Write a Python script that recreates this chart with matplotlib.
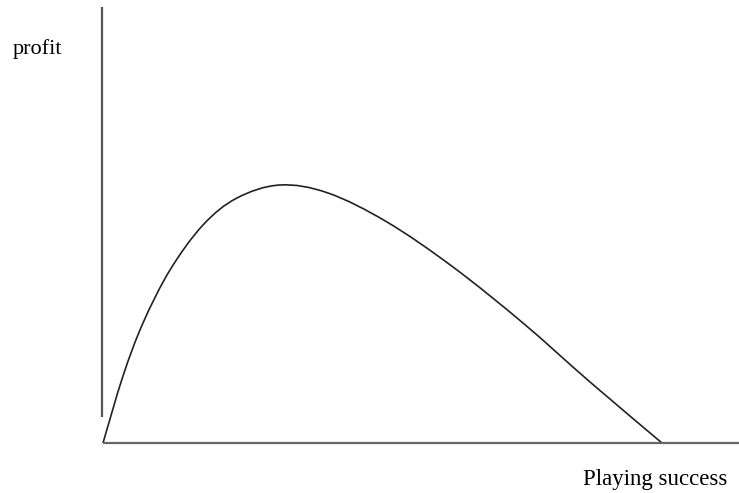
import matplotlib.pyplot as plt
from matplotlib.path import Path
from matplotlib.patches import PathPatch

W, H = 739, 493

# curve points (x = playing success, y = profit)
success = [0, 20, 40, 67, 100, 134, 177, 225, 284, 350, 420, 487, 559]
profit = [0, 67, 120, 173, 218, 245, 258, 250, 221, 176, 120, 61, 0]

fig = plt.figure(figsize=(W / 100, H / 100), dpi=100)
ax = fig.add_axes([0, 0, 1, 1])
# axis origin sits at pixel (103, 443)
ax.set_xlim(-103, W - 103)
ax.set_ylim(443 - H, 443)
ax.axis('off')

# draw the read points as a smooth Catmull-Rom style bezier path
pts = list(zip(success, profit))
verts = [pts[0]]
codes = [Path.MOVETO]
for i in range(len(pts) - 1):
    p0 = pts[i - 1] if i > 0 else pts[i]
    p1, p2 = pts[i], pts[i + 1]
    p3 = pts[i + 2] if i + 2 < len(pts) else pts[i + 1]
    c1 = (p1[0] + (p2[0] - p0[0]) / 6, p1[1] + (p2[1] - p0[1]) / 6)
    c2 = (p2[0] - (p3[0] - p1[0]) / 6, p2[1] - (p3[1] - p1[1]) / 6)
    verts += [c1, c2, p2]
    codes += [Path.CURVE4] * 3
ax.add_patch(PathPatch(Path(verts, codes), fill=False, edgecolor='#222222',
                       lw=1.2))

ax.plot([-1, -1], [26, 436], color='#555555', lw=1.6, solid_capstyle='butt')
ax.plot([0, W - 103], [0, 0], color='#666666', lw=1.6, solid_capstyle='butt')

fig.text(13 / W, 1 - 54 / H, 'profit', family='Liberation Serif',
         fontsize=16, va='baseline', ha='left', color='black')
fig.text(583 / W, 1 - 485 / H, 'Playing success', family='Liberation Serif',
         fontsize=16.5, va='baseline', ha='left', color='black')

plt.savefig('out.png', dpi=100)
